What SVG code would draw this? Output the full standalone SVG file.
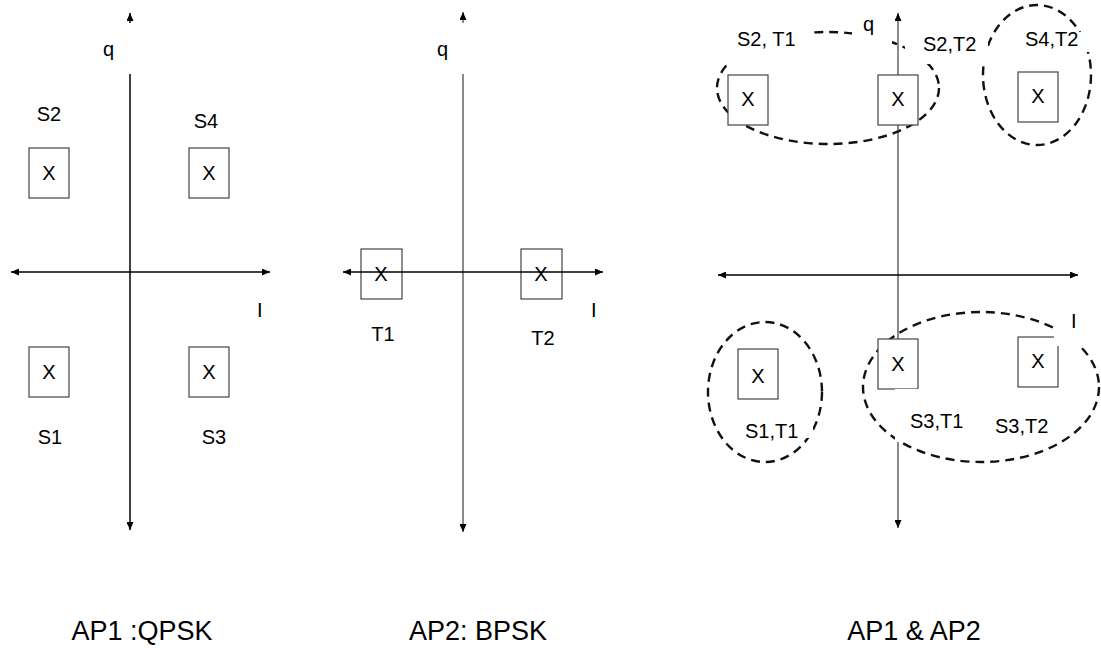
<svg xmlns="http://www.w3.org/2000/svg" width="1101" height="652" viewBox="0 0 1101 652">
  <style>
    text { font-family: "Liberation Sans", Arial, sans-serif; fill: #000; }
    .lbl { font-size: 20px; }
    .cap { font-size: 27px; }
    .mid { text-anchor: middle; }
    .box { fill: #fff; stroke: #444; stroke-width: 1.2; }
    .axis { stroke: #000; stroke-width: 1.5; fill: none; }
    .axis-g { stroke: #8a8a8a; stroke-width: 2; fill: none; }
    .ring { fill: none; stroke: #111; stroke-width: 2.4; stroke-dasharray: 9 6; }
    .bg { fill: #fff; stroke: none; }
  </style>
  <defs>
    <marker id="arrow" viewBox="0 0 8 7" refX="8" refY="3.5" markerWidth="8" markerHeight="7" markerUnits="userSpaceOnUse" orient="auto-start-reverse">
      <path d="M0,0 L8,3.5 L0,7 z" fill="#000"/>
    </marker>
  </defs>

  <!-- Axes -->
  <g id="connectors">
    <!-- AP1 QPSK plane -->
    <line class="axis" x1="130" y1="23" x2="130" y2="13" marker-end="url(#arrow)"/>
    <line class="axis" x1="130" y1="74" x2="130" y2="530" marker-end="url(#arrow)"/>
    <line class="axis" x1="11" y1="272" x2="270" y2="272" marker-start="url(#arrow)" marker-end="url(#arrow)"/>
    <!-- AP2 BPSK plane -->
    <line class="axis-g" x1="463" y1="23" x2="463" y2="12" marker-end="url(#arrow)"/>
    <line class="axis-g" x1="463" y1="74" x2="463" y2="532" marker-end="url(#arrow)"/>
    <!-- combined plane -->
    <line class="axis-g" x1="898" y1="528" x2="898" y2="13" marker-start="url(#arrow)" marker-end="url(#arrow)"/>
    <line class="axis" x1="718" y1="275" x2="1078" y2="275" marker-start="url(#arrow)" marker-end="url(#arrow)"/>
  </g>

  <!-- AP1 : QPSK constellation -->
  <g id="qpsk">
    <text class="lbl" x="103" y="56">q</text>
    <text class="lbl" x="257" y="317">I</text>
    <g id="s2">
      <text class="lbl mid" x="49" y="121">S2</text>
      <rect class="box" x="29" y="148" width="40" height="50"/>
      <text class="lbl mid" x="49" y="180">X</text>
    </g>
    <g id="s4">
      <text class="lbl mid" x="206" y="128">S4</text>
      <rect class="box" x="189" y="148" width="40" height="50"/>
      <text class="lbl mid" x="209" y="180">X</text>
    </g>
    <g id="s1">
      <rect class="box" x="29" y="347" width="40" height="50"/>
      <text class="lbl mid" x="49" y="379">X</text>
      <text class="lbl mid" x="50" y="444">S1</text>
    </g>
    <g id="s3">
      <rect class="box" x="189" y="347" width="40" height="50"/>
      <text class="lbl mid" x="209" y="379">X</text>
      <text class="lbl mid" x="214" y="444">S3</text>
    </g>
    <text class="cap mid" x="142" y="640">AP1 :QPSK</text>
  </g>

  <!-- AP2 : BPSK constellation -->
  <g id="bpsk">
    <text class="lbl" x="437" y="56">q</text>
    <text class="lbl" x="591" y="317">I</text>
    <g id="t1">
      <rect class="box" x="361" y="249" width="41" height="50"/>
      <text class="lbl mid" x="381" y="281">X</text>
      <text class="lbl mid" x="383" y="341">T1</text>
    </g>
    <g id="t2">
      <rect class="box" x="521" y="249" width="41" height="50"/>
      <text class="lbl mid" x="541" y="281">X</text>
      <text class="lbl mid" x="543" y="345">T2</text>
    </g>
    <line class="axis" x1="343" y1="272" x2="603" y2="272" marker-start="url(#arrow)" marker-end="url(#arrow)"/>
    <text class="cap mid" x="478" y="640">AP2: BPSK</text>
  </g>

  <!-- AP1 & AP2 joint constellation -->
  <g id="joint">
    <g id="groups">
      <ellipse class="ring" cx="828" cy="88" rx="111" ry="56"/>
      <ellipse class="ring" cx="1037" cy="75" rx="54" ry="70"/>
      <ellipse class="ring" cx="765" cy="392" rx="57" ry="70"/>
      <ellipse class="ring" cx="981" cy="387" rx="118" ry="75"/>
    </g>
    <g id="s2t1">
      <rect class="box" x="728" y="75" width="40" height="50"/>
      <text class="lbl mid" x="748" y="106">X</text>
    </g>
    <g id="s2t2">
      <rect class="box" x="878" y="75" width="40" height="50"/>
      <text class="lbl mid" x="898" y="106">X</text>
    </g>
    <g id="s4t2">
      <rect class="box" x="1018" y="72" width="40" height="50"/>
      <text class="lbl mid" x="1038" y="103">X</text>
    </g>
    <g id="s1t1">
      <rect class="box" x="738" y="349" width="40" height="50"/>
      <text class="lbl mid" x="758" y="383">X</text>
    </g>
    <g id="s3t1">
      <rect class="box" x="878" y="339" width="40" height="50"/>
      <text class="lbl mid" x="898" y="371">X</text>
    </g>
    <g id="s3t2">
      <rect class="box" x="1018" y="337" width="40" height="50"/>
      <text class="lbl mid" x="1038" y="368">X</text>
    </g>
    <!-- label backgrounds -->
    <rect class="bg" x="718" y="26" width="92" height="38"/>
    <rect class="bg" x="852" y="14" width="40" height="38"/>
    <rect class="bg" x="905" y="28" width="83" height="36"/>
    <rect class="bg" x="1022" y="32" width="73" height="20"/>
    <rect class="bg" x="742" y="412" width="71" height="26"/>
    <rect class="bg" x="895" y="389" width="73" height="53"/>
    <rect class="bg" x="1054" y="300" width="26" height="46"/>
    <text class="lbl" x="737" y="46">S2, T1</text>
    <text class="lbl" x="863" y="31">q</text>
    <text class="lbl" x="923" y="51">S2,T2</text>
    <text class="lbl" x="1025" y="46">S4,T2</text>
    <text class="lbl" x="745" y="438">S1,T1</text>
    <text class="lbl" x="910" y="428">S3,T1</text>
    <text class="lbl" x="995" y="433">S3,T2</text>
    <text class="lbl" x="1071" y="328">I</text>
    <text class="cap mid" x="914" y="640">AP1 &amp; AP2</text>
  </g>
</svg>
